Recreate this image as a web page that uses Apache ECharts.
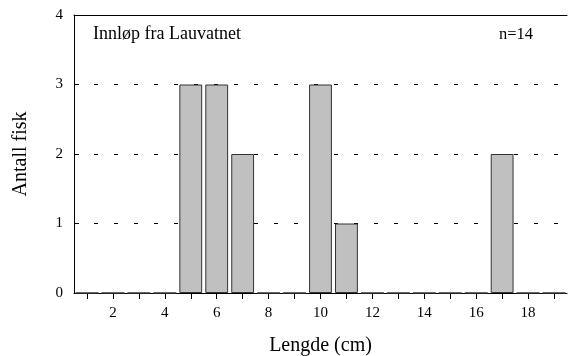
<!DOCTYPE html>
<html><head><meta charset="utf-8">
<script src="https://cdn.jsdelivr.net/npm/echarts@6/dist/echarts.min.js"></script>
<style>html,body{margin:0;padding:0;background:#fff}#c{width:568px;height:356px}</style>
</head><body><div id="c"></div>
<script>
const categories = ['1','2','3','4','5','6','7','8','9','10','11','12','13','14','15','16','17','18','19'];
const counts = [0,0,0,0,3,3,2,0,0,3,1,0,0,0,0,0,2,0,0];
const yTicks = [0,1,2,3,4];
const titleText = 'Innløp fra Lauvatnet';
const nText = 'n=14';
const xName = 'Lengde (cm)';
const yName = 'Antall fisk';

const font = 'Liberation Serif';
const chart = echarts.init(document.getElementById('c'));
chart.setOption({
  animation: false,
  textStyle: {fontFamily: font},
  title: [
    {text: titleText, left: 88, top: 20, textStyle: {fontFamily: font, fontSize: 18, fontWeight: 'normal', color: '#000'}},
    {text: nText, left: 494, top: 21, textStyle: {fontFamily: font, fontSize: 16.5, fontWeight: 'normal', color: '#000'}}
  ],
  grid: {left: 74, right: 1, top: 15, bottom: 63, outerBounds: {left: -60, right: -60, top: -60, bottom: -60}},
  xAxis: [{
    type: 'category', data: categories, boundaryGap: true,
    name: xName, nameLocation: 'middle', nameGap: 43,
    nameTextStyle: {fontFamily: font, fontSize: 20, color: '#000'},
    axisLine: {show: true, onZero: false, lineStyle: {color: '#000', width: 1}},
    axisTick: {show: true, alignWithLabel: true, interval: 0, inside: false, length: 6, lineStyle: {color: '#000', width: 1}},
    axisLabel: {interval: function(i, v){return (+v) % 2 === 0;}, fontFamily: font, fontSize: 15, color: '#000', margin: 13}
  },{
    type: 'category', data: categories, position: 'top',
    axisLine: {show: true, onZero: false, lineStyle: {color: '#000', width: 1}},
    axisTick: {show: false}, axisLabel: {show: false}
  }],
  yAxis: {
    type: 'value', min: 0, max: 4, interval: 1,
    name: yName, nameLocation: 'middle', nameGap: 43, nameRotate: 90,
    nameTextStyle: {fontFamily: font, fontSize: 20, color: '#000'},
    axisLine: {show: true, lineStyle: {color: '#000', width: 1}},
    axisTick: {show: true, inside: true, length: 5, lineStyle: {color: '#000'}},
    axisLabel: {fontFamily: font, fontSize: 15, color: '#000', margin: 11,
      formatter: function(v){return yTicks.indexOf(v) >= 0 ? String(v) : '';}},
    splitLine: {show: true, lineStyle: {color: '#000', type: [4, 16], width: 1}}
  },
  series: [{
    type: 'bar', data: counts, barWidth: '88%', xAxisIndex: 0,
    itemStyle: {color: '#c0c0c0', borderColor: '#333', borderWidth: 1}
  }]
});
</script></body></html>
